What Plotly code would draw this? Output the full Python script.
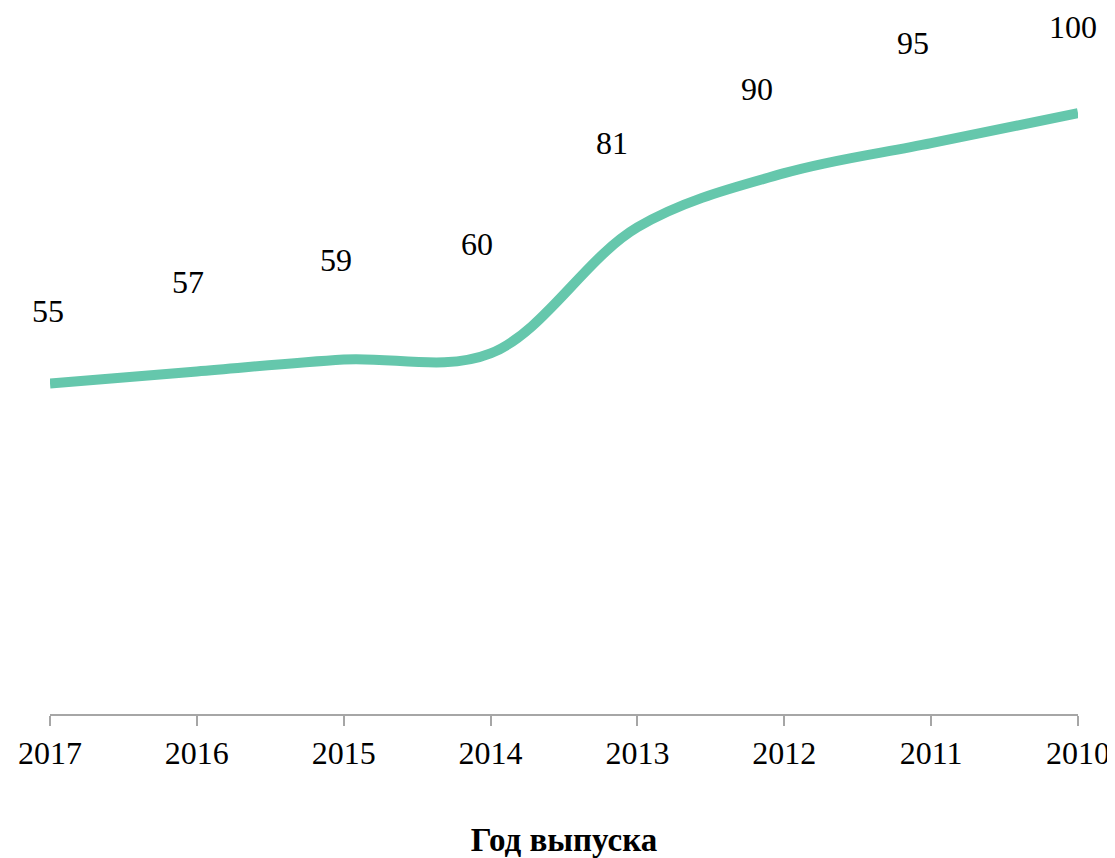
import plotly.graph_objects as go

years = ["2017", "2016", "2015", "2014", "2013", "2012", "2011", "2010"]
values = [55, 57, 59, 60, 81, 90, 95, 100]
label_shift = [73, 89, 99, 109, 84, 84, 100, 86]
label_xshift = [-2, -9, -8, -14, -25, -27, -18, -5]
axis_title = "Год выпуска"

FONT = "Liberation Serif"
LINE_COLOR = "#65C7AC"

fig = go.Figure()
fig.add_trace(go.Scatter(
    x=years, y=values, mode="lines",
    line=dict(color=LINE_COLOR, width=10, shape="spline", smoothing=1.0),
    hoverinfo="skip", showlegend=False,
))

for i, (v, s, xs) in enumerate(zip(values, label_shift, label_xshift)):
    fig.add_annotation(x=i, y=v, xref="x", yref="y", text=str(v), showarrow=False,
                       yshift=s, xshift=xs, font=dict(family=FONT, size=32, color="#000000"))

fig.update_layout(
    width=1107, height=850,
    margin=dict(l=42, r=37, t=45, b=144, autoexpand=False),
    paper_bgcolor="white", plot_bgcolor="white",
    font=dict(family=FONT, size=32, color="#000000"),
    xaxis=dict(
        type="category", range=[0, 7], automargin=False,
        showgrid=False, zeroline=False,
        showline=True, linecolor="#A6A6A6", linewidth=1.5,
        ticks="outside", ticklen=10, tickwidth=1.5, tickcolor="#A6A6A6",
        tickfont=dict(family=FONT, size=32, color="#000000"),
        title=dict(text="<b>" + axis_title + "</b>", font=dict(family=FONT, size=33, color="#000000"), standoff=58),
    ),
    yaxis=dict(range=[0, 110], visible=False, showgrid=False, zeroline=False, automargin=False),
)

fig.write_html("out.html")
